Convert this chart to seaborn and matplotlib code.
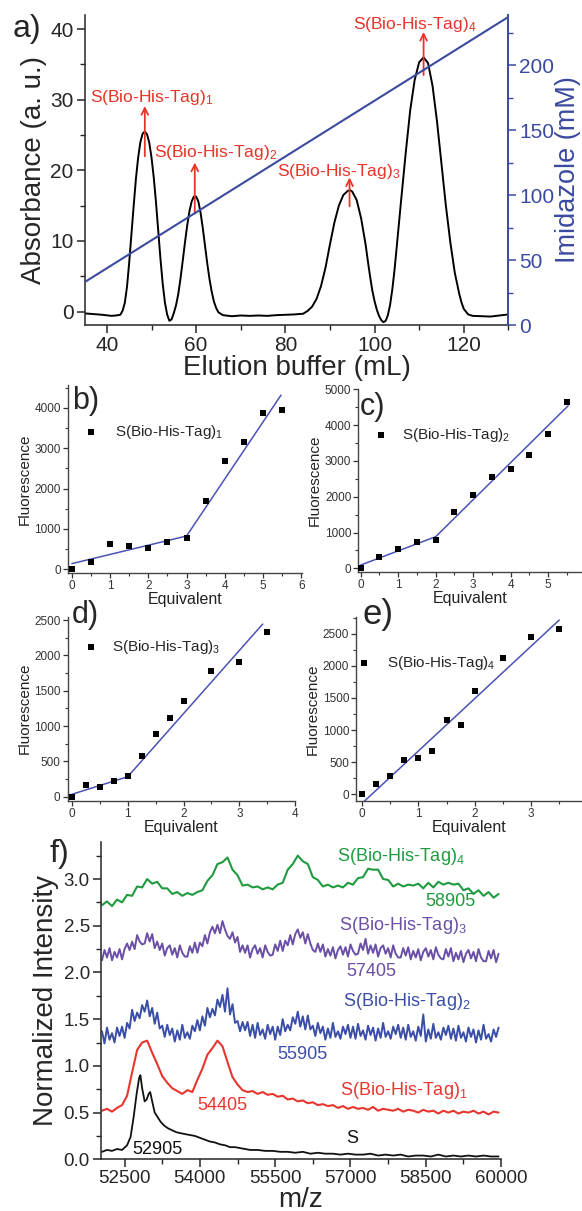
import numpy as np
import pandas as pd
import matplotlib
matplotlib.use('Agg')
import matplotlib.pyplot as plt
import seaborn as sns
from matplotlib.ticker import MultipleLocator, FormatStrFormatter

sns.set_theme(style='ticks')
plt.rcParams['font.family'] = ['Liberation Sans', 'DejaVu Sans']
plt.rcParams['mathtext.fontset'] = 'custom'
plt.rcParams['mathtext.rm'] = 'Liberation Sans'
plt.rcParams['mathtext.it'] = 'Liberation Sans:italic'
plt.rcParams['mathtext.bf'] = 'Liberation Sans:bold'
plt.rcParams['axes.linewidth'] = 1.1

# ---------------- panel a : chromatogram ----------------
elution_ml = [35, 37, 39, 41, 42, 43, 43.5, 44, 44.5, 45, 45.5, 46, 46.5, 47, 47.5, 48, 48.5, 49,
              49.5, 50, 50.5, 51, 51.5, 52, 52.5, 53, 53.5, 54, 54.5,
              55, 55.5, 56, 56.5, 57, 57.5, 58, 58.5, 59, 59.5, 60, 60.5, 61, 61.5, 62, 62.5, 63,
              63.5, 64, 64.5, 65, 66, 68, 70, 72, 74, 76, 78, 80, 82,
              84, 85, 86, 87, 88, 89, 90, 91, 92, 93, 94, 94.5, 95, 96, 97, 98, 98.5, 99, 99.5,
              100, 100.5, 101, 101.5, 102, 102.5,
              103, 103.5, 104, 104.5, 105, 106, 107, 108, 109, 110, 111, 112, 113, 114, 115, 116,
              117, 118, 119, 119.5, 120, 121, 122, 124, 126, 128, 130]
absorbance = [-0.25, -0.35, -0.45, -0.6, -0.55, -0.45, 0.1, 1.2, 3.5, 7.0, 11.0, 15.0, 18.8, 21.8,
              24.0, 25.2, 25.5, 25.1, 23.9, 21.8, 19.0, 15.5, 11.5, 7.5, 4.0, 1.3, -0.4, -1.3, -1.1,
              -0.2, 0.9, 2.5, 4.7, 7.2, 9.8, 12.2, 14.2, 15.6, 16.3, 16.3, 15.6, 14.0, 11.8, 9.3,
              6.8, 4.6, 2.8, 1.4, 0.5, -0.1, -0.5, -0.65, -0.55, -0.6, -0.55, -0.6, -0.5, -0.45,
              -0.4,
              -0.3, 0.1, 0.7, 1.8, 3.6, 6.2, 9.5, 12.6, 15.0, 16.5, 17.1, 17.2, 17.0, 15.8, 13.2,
              9.5, 7.2, 5.0, 3.0, 1.5, 0.3, -0.6, -1.2, -1.5, -1.3,
              -0.5, 1.0, 3.2, 6.0, 9.3, 16.0, 22.5, 28.5, 32.8, 35.3, 36.0, 35.2, 32.0, 27.0, 21.0,
              15.0, 9.8, 5.5, 2.5, 1.3, 0.4, -0.4, -0.6, -0.65, -0.7, -0.55, -0.4]
gradient_ml = [35, 130]
imidazole_mM = [33, 237]
peak_labels = ['S(Bio-His-Tag)$_1$', 'S(Bio-His-Tag)$_2$', 'S(Bio-His-Tag)$_3$', 'S(Bio-His-Tag)$_4$']
arrow_x = [48.5, 59.7, 94.4, 111.0]
arrow_from = [22.0, 13.9, 14.9, 33.5]
arrow_to = [29.1, 21.1, 19.0, 39.6]
label_x = [50.1, 64.3, 91.9, 109.0]
label_y = [30.3, 22.6, 19.9, 40.7]

# ---------------- panels b-e : titrations ----------------
b_eq = [0, 0.5, 1, 1.5, 2, 2.5, 3, 3.5, 4, 4.5, 5, 5.5]
b_fl = [0, 181, 620, 570, 538, 677, 769, 1705, 2680, 3168, 3863, 3938]
b_fit_x = [0, 3, 5.47]
b_fit_y = [141, 826, 4318]

c_eq = [0, 0.5, 1, 1.5, 2, 2.5, 3, 3.5, 4, 4.5, 5, 5.5]
c_fl = [0, 326, 529, 744, 789, 1568, 2053, 2540, 2766, 3175, 3760, 4643]
c_fit_x = [0, 2, 5.53]
c_fit_y = [92, 883, 4540]

d_eq = [0, 0.25, 0.5, 0.75, 1, 1.25, 1.5, 1.75, 2, 2.5, 3, 3.5]
d_fl = [0, 170, 141, 222, 288, 571, 891, 1117, 1358, 1782, 1910, 2325]
d_fit_x = [0, 1, 3.42]
d_fit_y = [34, 283, 2443]

e_eq = [0, 0.25, 0.5, 0.75, 1, 1.25, 1.5, 1.75, 2, 2.5, 3, 3.5]
e_fl = [0, 155, 285, 533, 560, 678, 1156, 1073, 1607, 2115, 2451, 2566]
e_fit_x = [0.03, 3.505]
e_fit_y = [-115, 2711]

# ---------------- panel f : mass spectra ----------------
mz_grid = np.arange(52050, 60000, 100)
mz_fine = np.arange(52050, 60000, 50)
s_mz = [52050, 52150, 52250, 52350, 52450, 52550, 52620, 52680, 52740, 52790, 52815, 52850, 52900,
        52940, 52980, 53010, 53050, 53100, 53160, 53220, 53290, 53370, 53450, 53530, 53610, 53700,
        53800, 53900, 54000, 54100, 54200, 54300, 54400, 54500, 54600, 54700, 54800, 54900, 55000,
        55150, 55300, 55450, 55600, 55750, 55900, 56050, 56200, 56350, 56500, 56650, 56800, 56950,
        57100, 57250, 57400, 57550, 57700, 57850, 58000, 58150, 58300, 58450, 58600, 58750, 58900,
        59050, 59200, 59350, 59500, 59650, 59800, 59950]
s_int = [.08, .10, .09, .11, .10, .15, .24, .45, .70, .87, .90, .76, .62, .64, .70, .72, .62, .50,
         .45, .40, .36, .33, .31, .29, .28, .27, .26, .25, .23, .21, .19, .18, .16, .15, .13, .13,
         .12, .11, .10, .10, .09, .09, .08, .08, .07, .08, .06, .07, .06, .06, .05, .06, .05, .05,
         .06, .04, .05, .04, .05, .03, .04, .04, .03, .05, .03, .04, .03, .04, .03, .04, .03, .03]
s1_int = [.52, .54, .51, .55, .58, .68, .93, 1.17, 1.25, 1.27,
          1.14, 1.02, .89, .82, .76, .73, .70, .74, .72, .85,
          .97, 1.12, 1.19, 1.27, 1.21, 1.04, .88, .80, .74, .72,
          .73, .70, .72, .69, .70, .67, .68, .64, .65, .62,
          .63, .60, .61, .58, .59, .57, .58, .55, .57, .54,
          .56, .54, .55, .53, .56, .52, .54, .53, .52, .54,
          .51, .53, .52, .50, .53, .51, .52, .49, .52, .50,
          .52, .49, .51, .50, .52, .49, .51, .48, .51, .50]
s2_int = [1.37, 1.24, 1.41, 1.28, 1.35, 1.25, 1.41, 1.32, 1.42, 1.30,
          1.46, 1.40, 1.60, 1.48, 1.57, 1.51, 1.65, 1.58, 1.70, 1.53,
          1.62, 1.45, 1.57, 1.40, 1.43, 1.31, 1.44, 1.33, 1.40, 1.26,
          1.38, 1.28, 1.44, 1.30, 1.36, 1.29, 1.43, 1.37, 1.49, 1.38,
          1.53, 1.43, 1.62, 1.52, 1.61, 1.54, 1.71, 1.63, 1.76, 1.58,
          1.83, 1.55, 1.66, 1.46, 1.48, 1.37, 1.47, 1.38, 1.47, 1.32,
          1.44, 1.30, 1.46, 1.33, 1.39, 1.29, 1.44, 1.34, 1.42, 1.28,
          1.42, 1.33, 1.50, 1.37, 1.44, 1.38, 1.52, 1.45, 1.58, 1.42,
          1.53, 1.39, 1.54, 1.39, 1.43, 1.32, 1.46, 1.35, 1.42, 1.28,
          1.40, 1.30, 1.46, 1.31, 1.37, 1.29, 1.42, 1.34, 1.44, 1.30,
          1.42, 1.29, 1.45, 1.32, 1.38, 1.28, 1.43, 1.33, 1.41, 1.27,
          1.40, 1.30, 1.46, 1.31, 1.37, 1.29, 1.42, 1.34, 1.44, 1.30,
          1.41, 1.28, 1.44, 1.31, 1.37, 1.27, 1.42, 1.32, 1.55, 1.26,
          1.39, 1.29, 1.45, 1.30, 1.36, 1.28, 1.41, 1.33, 1.43, 1.29,
          1.40, 1.27, 1.43, 1.30, 1.36, 1.26, 1.41, 1.31, 1.39, 1.25,
          1.38, 1.28, 1.44, 1.29, 1.34, 1.26, 1.39, 1.31, 1.41]
s3_int = [2.13, 2.24, 2.16, 2.26, 2.13, 2.22, 2.16, 2.25, 2.14, 2.25,
          2.31, 2.24, 2.33, 2.25, 2.40, 2.33, 2.30, 2.31, 2.42, 2.33,
          2.41, 2.26, 2.33, 2.24, 2.31, 2.18, 2.26, 2.29, 2.19, 2.26,
          2.16, 2.29, 2.21, 2.17, 2.17, 2.28, 2.21, 2.32, 2.21, 2.32,
          2.28, 2.40, 2.31, 2.43, 2.49, 2.42, 2.51, 2.42, 2.55, 2.46,
          2.39, 2.36, 2.43, 2.32, 2.38, 2.22, 2.29, 2.21, 2.29, 2.16,
          2.25, 2.29, 2.20, 2.26, 2.16, 2.29, 2.22, 2.18, 2.19, 2.30,
          2.23, 2.34, 2.23, 2.34, 2.29, 2.40, 2.30, 2.41, 2.46, 2.37,
          2.43, 2.31, 2.41, 2.31, 2.24, 2.22, 2.31, 2.22, 2.30, 2.17,
          2.25, 2.18, 2.27, 2.15, 2.24, 2.28, 2.19, 2.27, 2.17, 2.30,
          2.23, 2.19, 2.20, 2.31, 2.24, 2.36, 2.20, 2.29, 2.21, 2.30,
          2.17, 2.26, 2.29, 2.20, 2.26, 2.16, 2.29, 2.20, 2.16, 2.16,
          2.26, 2.18, 2.27, 2.14, 2.23, 2.16, 2.25, 2.13, 2.22, 2.26,
          2.17, 2.24, 2.14, 2.27, 2.19, 2.15, 2.14, 2.25, 2.17, 2.26,
          2.12, 2.21, 2.14, 2.23, 2.11, 2.20, 2.24, 2.15, 2.22, 2.12,
          2.25, 2.16, 2.12, 2.12, 2.23, 2.15, 2.24, 2.11, 2.20]
s4_int = [2.72, 2.76, 2.71, 2.78, 2.75, 2.83, 2.82, 2.92, 2.91, 3.00,
          2.95, 2.97, 2.90, 2.90, 2.84, 2.86, 2.82, 2.85, 2.83, 2.86,
          2.88, 2.98, 3.04, 3.16, 3.18, 3.23, 3.10, 3.04, 2.93, 2.94,
          2.91, 2.92, 2.89, 2.91, 2.89, 2.94, 2.96, 3.10, 3.16, 3.25,
          3.19, 3.16, 3.02, 2.99, 2.92, 2.94, 2.91, 2.93, 2.91, 2.96,
          2.94, 3.01, 3.02, 3.11, 3.10, 3.10, 3.00, 2.99, 2.92, 2.95,
          2.92, 2.94, 2.93, 2.95, 2.90, 2.96, 2.91, 2.97, 2.94, 2.96,
          2.94, 2.95, 2.88, 2.90, 2.84, 2.88, 2.82, 2.86, 2.80, 2.84]
f_names = ['S', 'S(Bio-His-Tag)$_1$', 'S(Bio-His-Tag)$_2$', 'S(Bio-His-Tag)$_3$', 'S(Bio-His-Tag)$_4$']
f_name_x = [57043, 58065, 58117, 58041, 58000]
f_name_y = [0.225, 0.74, 1.69, 2.50, 3.24]
f_mass = ['52905', '54405', '55905', '57405', '58905']
f_mass_x = [53160, 54453, 56044, 57413, 58984]
f_mass_y = [0.10, 0.58, 1.12, 2.01, 2.76]

RED = '#e8332a'
NAVY = '#3b4a9f'
FIT = '#4b52b5'
f_colors = ['#111111', '#e8352e', '#3a4ea8', '#6b4fa6', '#1f9a3f']

fig = plt.figure(figsize=(5.82, 12.11), dpi=100)

# ---------------- panel a ----------------
axa = fig.add_axes([0.1454, 0.7316, 0.728, 0.256])
sns.lineplot(x=elution_ml, y=absorbance, ax=axa, color='black', lw=1.4, sort=False, estimator=None)
axa.set_xlim(35, 130)
axa.set_ylim(-1.9, 42)
axa.xaxis.set_major_locator(MultipleLocator(20))
axa.xaxis.set_minor_locator(MultipleLocator(10))
axa.yaxis.set_major_locator(MultipleLocator(10))
axa.yaxis.set_minor_locator(MultipleLocator(5))
axa.tick_params(which='major', direction='out', length=6, width=1.1, labelsize=15, pad=2)
axa.tick_params(which='minor', direction='out', length=3.5, width=1.0)
axa.set_xlabel('Elution buffer (mL)', fontsize=20, labelpad=0)
axa.set_ylabel('Absorbance (a. u.)', fontsize=20, labelpad=2)
axa.spines['top'].set_visible(False)
axa.spines['right'].set_visible(False)
for xa, y0, y1 in zip(arrow_x, arrow_from, arrow_to):
    axa.annotate('', xy=(xa, y1), xytext=(xa, y0),
                 arrowprops=dict(arrowstyle='->', color=RED, lw=1.3, shrinkA=0, shrinkB=0,
                                 mutation_scale=12))
for lab, lx, ly in zip(peak_labels, label_x, label_y):
    axa.text(lx, ly, lab, color=RED, fontsize=12.5, ha='center', va='center')

axr = axa.twinx()
sns.lineplot(x=gradient_ml, y=imidazole_mM, ax=axr, color=NAVY, lw=1.5)
axr.set_ylim(0, 238.5)
axr.yaxis.set_major_locator(MultipleLocator(50))
axr.yaxis.set_minor_locator(MultipleLocator(25))
axr.tick_params(which='major', direction='out', length=6, width=1.1, labelsize=15,
                colors=NAVY, pad=2)
axr.tick_params(which='minor', direction='out', length=3.5, width=1.0, colors=NAVY)
axr.set_ylabel('Imidazole (mM)', fontsize=19.5, color=NAVY, labelpad=0)
axr.spines['right'].set_color(NAVY)
axr.spines['right'].set_linewidth(1.4)
axr.spines['top'].set_visible(False)
axr.spines['left'].set_visible(False)
axr.spines['bottom'].set_visible(False)

# ---------------- panels b-e ----------------
def titration(rect, eq, fl, fx, fy, xlim, ylim, xstep, ystep, lab, leg_xy, pad):
    ax = fig.add_axes(rect)
    sns.lineplot(x=fx, y=fy, ax=ax, color=FIT, lw=1.1, sort=False, estimator=None)
    sns.scatterplot(x=eq, y=fl, ax=ax, marker='s', s=22, color='black', linewidth=0,
                    label=lab, zorder=3)
    ax.set_xlim(*xlim)
    ax.set_ylim(*ylim)
    ax.xaxis.set_major_locator(MultipleLocator(xstep))
    ax.xaxis.set_minor_locator(MultipleLocator(xstep / 2))
    ax.yaxis.set_major_locator(MultipleLocator(ystep))
    ax.yaxis.set_minor_locator(MultipleLocator(ystep / 2))
    ax.tick_params(which='major', direction='out', length=3.5, width=0.9, labelsize=8.5,
                   pad=1.5, colors='#333333')
    ax.tick_params(which='minor', direction='out', length=2, width=0.8, colors='#333333')
    for sp in ['left', 'bottom']:
        ax.spines[sp].set_color('#444444')
        ax.spines[sp].set_linewidth(1.0)
    ax.spines['top'].set_visible(False)
    ax.spines['right'].set_visible(False)
    ax.set_xlabel('Equivalent', fontsize=11.5, labelpad=0, color='#222222')
    ax.set_ylabel('Fluorescence', fontsize=11, labelpad=2, color='#222222')
    ax.legend(loc='center left', bbox_to_anchor=leg_xy, frameon=False, fontsize=11,
              handlelength=1.0, handletextpad=pad, borderaxespad=0, borderpad=0,
              scatterpoints=1, markerscale=1.0)
    return ax

titration([0.1168, 0.5268, 0.4022, 0.1552], b_eq, b_fl, b_fit_x, b_fit_y, (-0.1, 6.02),
          (-92, 4566), 1, 1000, 'S(Bio-His-Tag)$_1$', (0.064, 0.75), 1.09)
titration([0.6156, 0.5279, 0.3844, 0.1509], c_eq, c_fl, c_fit_x, c_fit_y, (-0.065, 5.9),
          (-95, 5010), 1, 1000, 'S(Bio-His-Tag)$_2$', (0.066, 0.748), 0.88)
titration([0.1160, 0.3388, 0.3910, 0.1519], d_eq, d_fl, d_fit_x, d_fit_y, (-0.08, 4.0),
          (-57, 2546), 1, 500, 'S(Bio-His-Tag)$_3$', (0.069, 0.837), 0.9)
titration([0.6117, 0.3386, 0.3883, 0.1521], e_eq, e_fl, e_fit_x, e_fit_y, (-0.11, 3.91),
          (-104, 2762), 1, 500, 'S(Bio-His-Tag)$_4$', (0.002, 0.749), 0.98)

# ---------------- panel f ----------------
axf = fig.add_axes([0.1735, 0.0427, 0.6875, 0.2623])
sns.lineplot(x=s_mz, y=s_int, ax=axf, color=f_colors[0], lw=1.3, sort=False, estimator=None)
sns.lineplot(x=mz_grid, y=s1_int, ax=axf, color=f_colors[1], lw=1.5, sort=False, estimator=None)
sns.lineplot(x=mz_fine, y=s2_int, ax=axf, color=f_colors[2], lw=1.4, sort=False, estimator=None)
sns.lineplot(x=mz_fine, y=s3_int, ax=axf, color=f_colors[3], lw=1.4, sort=False, estimator=None)
sns.lineplot(x=mz_grid, y=s4_int, ax=axf, color=f_colors[4], lw=1.5, sort=False, estimator=None)
axf.set_xlim(52030, 60000)
axf.set_ylim(0, 3.40)
axf.xaxis.set_major_locator(MultipleLocator(1500))
axf.xaxis.set_minor_locator(MultipleLocator(750))
axf.yaxis.set_major_locator(MultipleLocator(0.5))
axf.yaxis.set_minor_locator(MultipleLocator(0.25))
axf.yaxis.set_major_formatter(FormatStrFormatter('%.1f'))
axf.tick_params(which='major', direction='out', length=6, width=1.1, labelsize=13.5, pad=2)
axf.tick_params(which='minor', direction='out', length=3.5, width=1.0)
axf.spines['top'].set_visible(False)
axf.spines['right'].set_visible(False)
axf.set_xlabel('m/z', fontsize=20, labelpad=0)
axf.set_ylabel('Normalized Intensity', fontsize=20, labelpad=3)
for nm, nx, ny, col in zip(f_names, f_name_x, f_name_y, f_colors):
    axf.text(nx, ny, nm, color=col, fontsize=13, ha='center', va='center')
for ms, mx, my, col in zip(f_mass, f_mass_x, f_mass_y, f_colors):
    axf.text(mx, my, ms, color=col, fontsize=13, ha='center', va='center')

# panel letters
fig.text(0.022, 0.976, 'a)', fontsize=23, va='center', ha='left')
fig.text(0.124, 0.669, 'b)', fontsize=22, va='center', ha='left')
fig.text(0.618, 0.6643, 'c)', fontsize=22, va='center', ha='left')
fig.text(0.123, 0.492, 'd)', fontsize=22, va='center', ha='left')
fig.text(0.622, 0.4925, 'e)', fontsize=25, va='center', ha='left')
fig.text(0.085, 0.295, 'f)', fontsize=23, va='center', ha='left')

fig.savefig('out.png', dpi=100)
